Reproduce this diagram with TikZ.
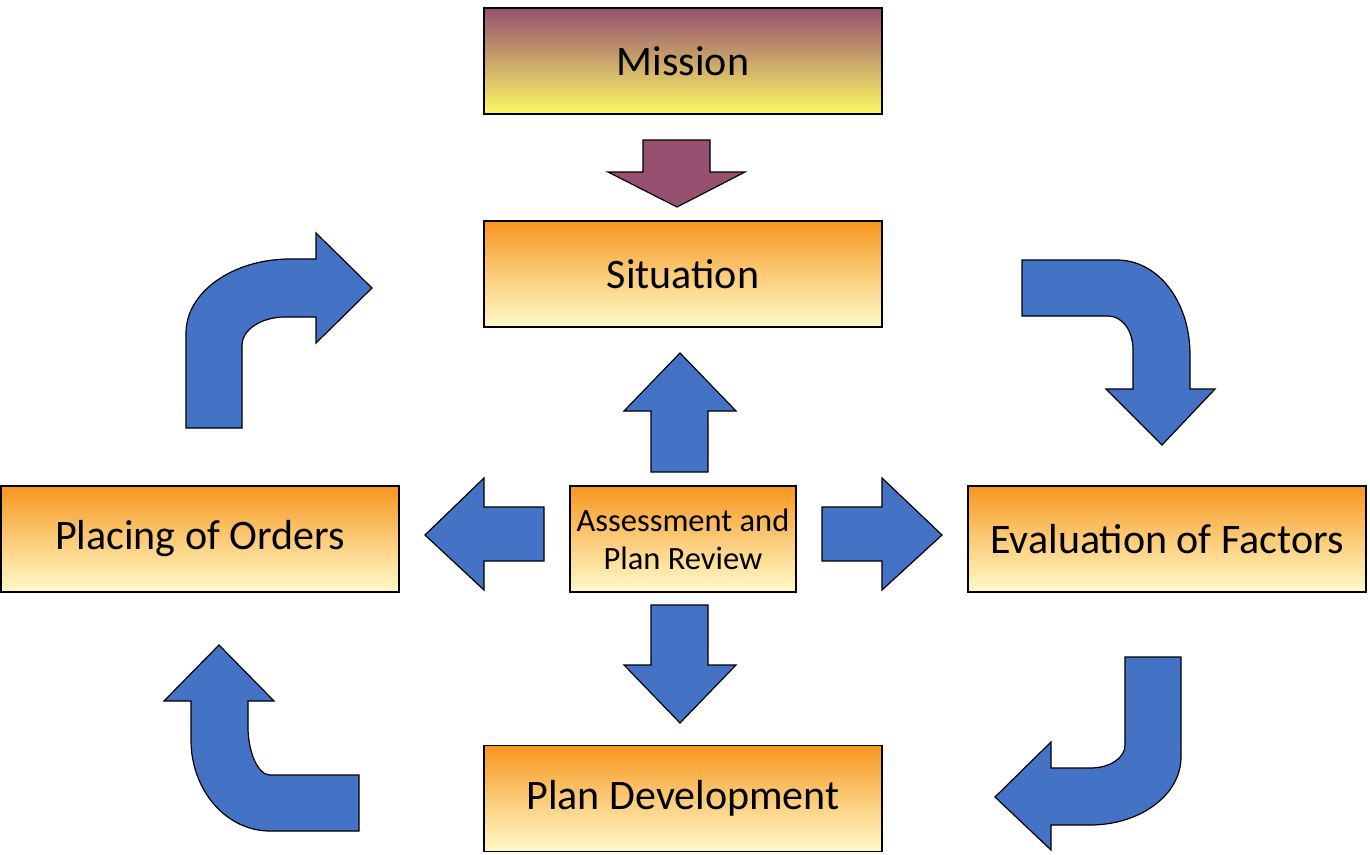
\documentclass[tikz,border=0pt]{standalone}
\usepackage{fontspec}
\setmainfont{Carlito}
\usepackage{tikz}
\usepackage{xcolor}
\usetikzlibrary{
    calc,
    positioning
}
\definecolor{plum}{RGB}{150,80,112}
\definecolor{lemon}{RGB}{252,250,100}
\definecolor{tan}{RGB}{222,198,104}
\definecolor{amber}{RGB}{247,150,30}
\definecolor{cream}{RGB}{255,250,202}
\definecolor{arrowblue}{RGB}{68,114,196}

\begin{document}
\begin{tikzpicture}[x=1pt, y=-1pt,
    box/.style={draw=black, line width=1.2pt, rectangle, minimum width=398pt, minimum height=106pt,
        font=\fontsize{42}{50}\selectfont, align=center, inner sep=0pt},
    orangebox/.style={box, top color=amber, bottom color=cream, middle color={rgb,255:red,251;green,203;blue,120}},
    missionbox/.style={box, top color=plum, middle color=tan, bottom color=lemon},
    blockarrow/.style={draw=black, line width=1.2pt, fill=arrowblue, line join=miter}]
                        \useasboundingbox (0, 0) rectangle (1370, 854);
                        % boxes
                        \node[missionbox] (mission) at (683, 61) {Mission};
                        \node[orangebox] (situation) at (683, 274) {Situation};
                        \node[orangebox] (orders) at (200, 539) {Placing of Orders};
                        \node[orangebox] (factors) at (1167, 539) {Evaluation of Factors};
                        \node[orangebox] (plan) at (683, 798.5) {Plan Development};
                        \node[orangebox, minimum width=226pt, font=\fontsize{32.5}{38}\selectfont] (review) at (683, 539)
                            {Assessment and\\Plan Review};
                        % mission arrow
                        \draw[blockarrow, fill=plum]
                        (643, 140) -- (710, 140) -- (710, 172) -- (745, 172) -- (677, 207)
                        -- (608, 172) -- (643, 172) -- cycle;
                        % arrows from the review box
                        \draw[blockarrow]
                        (651, 472) -- (651, 411) -- (624, 411) -- (680, 353) -- (736, 411)
                        -- (708, 411) -- (708, 472) -- cycle;
                        \draw[blockarrow]
                        (651, 605) -- (651, 665) -- (624, 665) -- (680, 723) -- (736, 665)
                        -- (708, 665) -- (708, 605) -- cycle;
                        \draw[blockarrow]
                        (544, 507) -- (484, 507) -- (484, 478) -- (425, 535) -- (484, 590)
                        -- (484, 561) -- (544, 561) -- cycle;
                        \draw[blockarrow]
                        (822, 507) -- (882, 507) -- (882, 478) -- (942, 535) -- (882, 590)
                        -- (882, 561) -- (822, 561) -- cycle;
                        % bent arrows round the cycle
                        \draw[blockarrow]
                        (186, 428) -- (186, 333) .. controls (186, 292) and (233, 259) .. (290, 259)
                        -- (316, 259) -- (316, 233) -- (372, 288) -- (316, 343) -- (316, 317)
                        -- (285, 317) .. controls (261, 317) and (242, 330) .. (242, 345)
                        -- (242, 428) -- cycle;
                        \draw[blockarrow]
                        (1022, 260) -- (1117, 260) .. controls (1157, 260) and (1190, 300) .. (1190, 355)
                        -- (1190, 389) -- (1215, 389) -- (1162, 445) -- (1106, 389) -- (1133, 389)
                        -- (1133, 350) .. controls (1133, 330) and (1122, 316) .. (1108, 316)
                        -- (1022, 316) -- cycle;
                        \draw[blockarrow]
                        (1181, 657) -- (1181, 757) .. controls (1181, 795) and (1140, 825) .. (1090, 825)
                        -- (1051, 825) -- (1051, 850) -- (995, 797) -- (1051, 742) -- (1051, 768)
                        -- (1090, 768) .. controls (1110, 768) and (1125, 758) .. (1125, 745)
                        -- (1125, 657) -- cycle;
                        \draw[blockarrow]
                        (359, 831) -- (270, 831) .. controls (226, 831) and (191, 790) .. (191, 740)
                        -- (191, 701) -- (164, 701) -- (219, 645) -- (274, 701) -- (248, 701)
                        -- (248, 727) .. controls (248, 752) and (258, 775) .. (270, 775)
                        -- (359, 775) -- cycle;
                    \end{tikzpicture}
\end{document}
